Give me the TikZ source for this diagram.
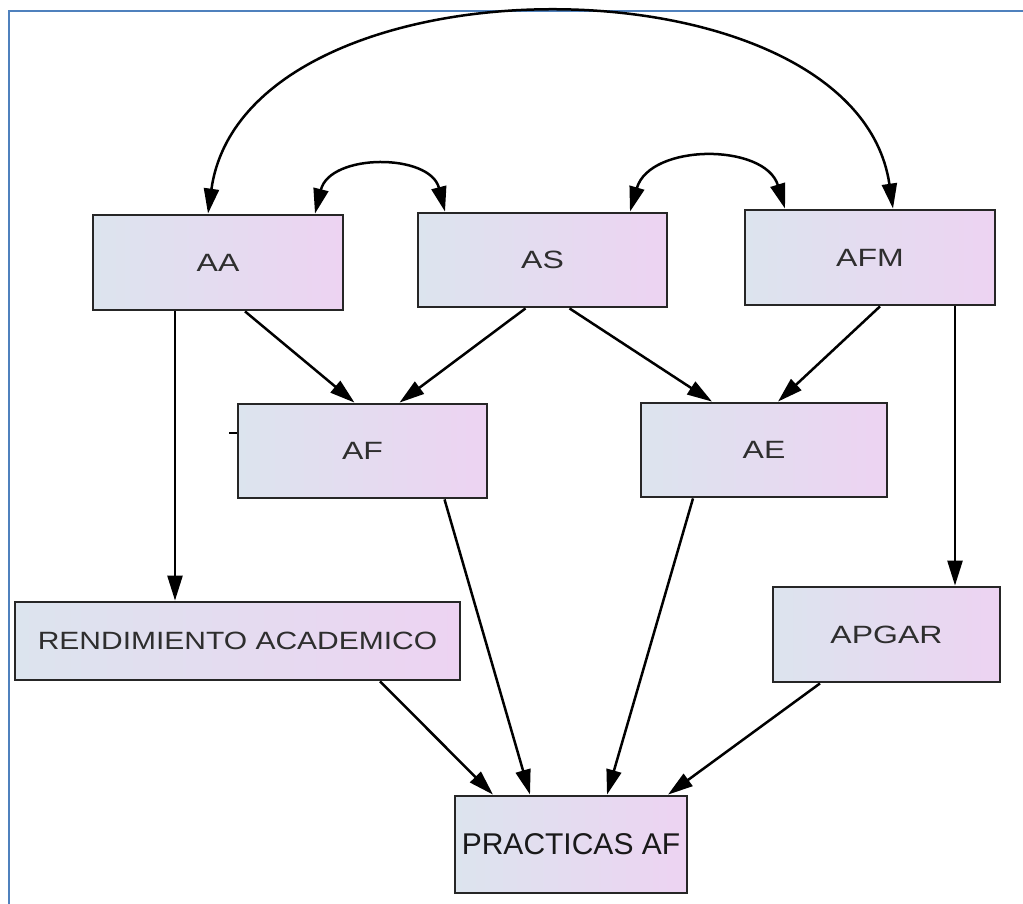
\documentclass[tikz,border=0pt]{standalone}
\usepackage{fontspec}
\setmainfont{Liberation Sans}
\usetikzlibrary{arrows.meta}
\definecolor{boxl}{HTML}{DCE4EE}
\definecolor{boxr}{HTML}{EDD3F2}
\definecolor{frameblue}{HTML}{4F81BD}
\newcommand\stretchtxt[1]{\scalebox{1.28}[1]{#1}}
\begin{document}
\begin{tikzpicture}[x=1pt,y=-1pt,
  box/.style={draw=black!85, line width=2.8pt, left color=boxl, right color=boxr,
    inner sep=0pt, text=black!82, font=\fontsize{25}{28}\selectfont},
  tip/.tip={Triangle[length=25pt,width=15pt]},
  link/.style={line width=2.5pt, -tip},
  both/.style={line width=2.5pt, tip-tip}]
\useasboundingbox (0,0) rectangle (1023,904);
% page frame
\draw[frameblue, line width=2.8pt] (9,904) -- (9,11) -- (1023,11);

% boxes
\node[box, minimum width=250pt, minimum height=95pt] (AA) at (218,262.5) {\stretchtxt{AA}};
\node[box, minimum width=249pt, minimum height=94pt] (AS) at (542.5,260) {\stretchtxt{AS}};
\node[box, minimum width=250pt, minimum height=95pt] (AFM) at (870,257.5) {\stretchtxt{AFM}};
\node[box, minimum width=249pt, minimum height=94pt] (AF) at (362.5,451) {\stretchtxt{AF}};
\node[box, minimum width=246pt, minimum height=94pt] (AE) at (764,450) {\stretchtxt{AE}};
\node[box, minimum width=445pt, minimum height=78pt] (REND) at (237.5,641) {\scalebox{1.2}[1]{RENDIMIENTO ACADEMICO}};
\node[box, minimum width=227pt, minimum height=95pt] (APGAR) at (886.5,634.5) {\stretchtxt{APGAR}};
\node[box, minimum width=232pt, minimum height=97pt, text=black!90,
  font=\fontsize{30}{34}\selectfont] (PR) at (571,844.5) {PRACTICAS AF};

% small tick on the left side of AF
\draw[line width=2.5pt] ([yshift=18pt]AF.west) -- ++(-8,0);

% arcs between the top boxes
\draw[both] ([xshift=-10pt]AA.north) .. controls (245,-50) and (855,-50) .. ([xshift=23pt]AFM.north);
\draw[both] ([xshift=97pt]AA.north) .. controls (330,153) and (430,153) .. ([xshift=-97.5pt]AS.north);
\draw[both] ([xshift=87.5pt]AS.north) .. controls (650,143) and (765,143) .. ([xshift=-85pt]AFM.north);

% straight links
\draw[link] ([xshift=-43pt]AA.south) -- ([xshift=-62.5pt]REND.north);
\draw[link] ([xshift=27pt]AA.south) -- ([xshift=-8pt]AF.north);
\draw[link] ([xshift=-17pt]AS.south) -- ([xshift=37pt]AF.north);
\draw[link] ([xshift=27pt]AS.south) -- ([xshift=-52pt]AE.north);
\draw[link] ([xshift=10pt]AFM.south) -- ([xshift=14pt]AE.north);
\draw[link] ([xshift=85pt]AFM.south) -- ([xshift=68.5pt]APGAR.north);
\draw[link] ([xshift=82pt]AF.south) -- ([xshift=-41pt]PR.north);
\draw[link] ([xshift=-71pt]AE.south) -- ([xshift=36pt]PR.north);
\draw[link] ([xshift=142.5pt]REND.south) -- ([xshift=-78pt]PR.north);
\draw[link] ([xshift=-66.5pt]APGAR.south) -- ([xshift=97pt]PR.north);
\end{tikzpicture}
\end{document}
